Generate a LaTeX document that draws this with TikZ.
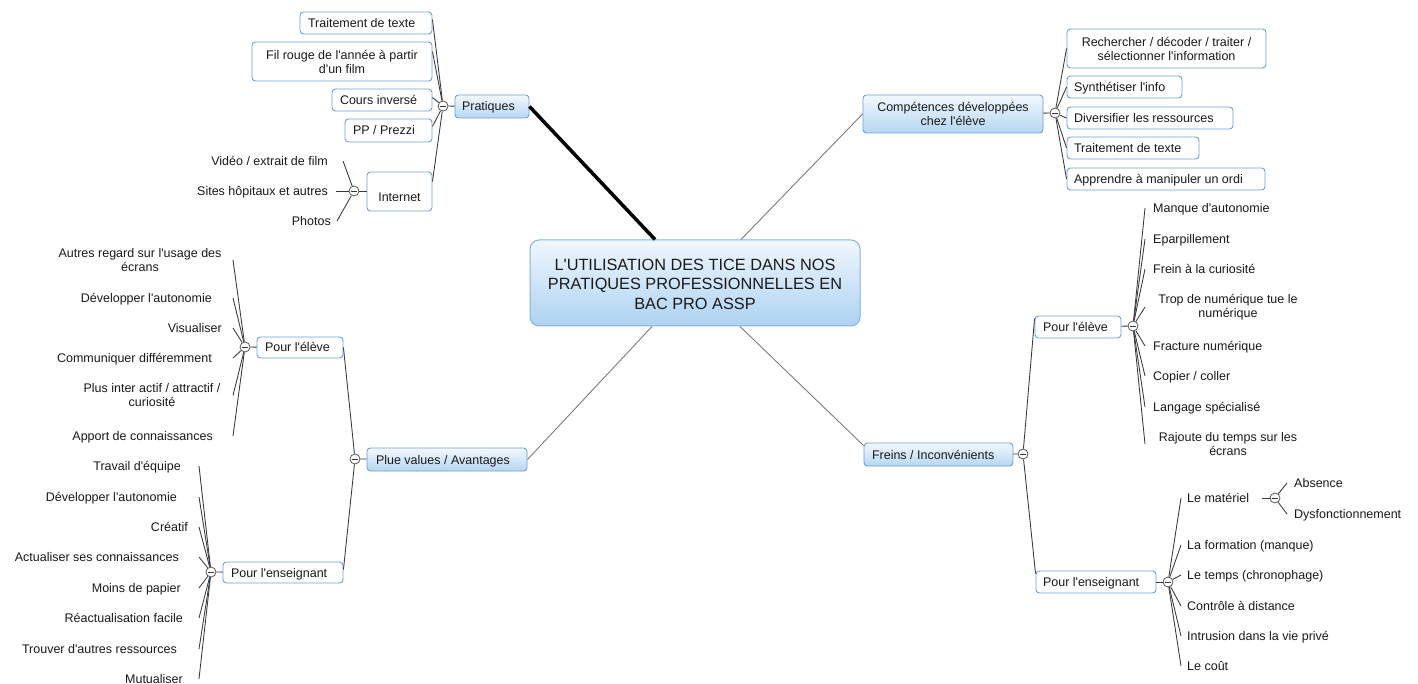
\documentclass[tikz,border=0pt]{standalone}
\usepackage{fontspec}
\setmainfont{Liberation Sans}[Ligatures=TeXOff]
\usetikzlibrary{calc}
\definecolor{bordblue}{HTML}{6F9FD2}
\definecolor{gradtop}{HTML}{F3F9FE}
\definecolor{gradbot}{HTML}{B5D6F2}
\definecolor{ctop}{HTML}{F0F7FE}
\definecolor{cbot}{HTML}{ADD2F1}
\definecolor{cbord}{HTML}{86B3DD}
\definecolor{linegray}{HTML}{383838}
\definecolor{maingray}{HTML}{7C7C7C}
\definecolor{txt}{HTML}{1A1A1A}
\begin{document}
\begin{tikzpicture}[x=1pt,y=-1pt,
  font=\fontsize{12.5}{14}\selectfont, text=txt,
  wbox/.style={draw=bordblue, line width=0.9pt, fill=white, rounded corners=3.5pt, inner sep=0pt},
  gbox/.style={draw=bordblue, line width=0.9pt, top color=gradtop, bottom color=gradbot, rounded corners=3.5pt, inner sep=0pt},
  cbox/.style={draw=cbord, line width=1pt, top color=ctop, bottom color=cbot, rounded corners=9pt, inner sep=0pt, align=center, font=\fontsize{16.3}{19.5}\selectfont},
  one/.style={text height=11pt, text depth=2pt},
  lbl/.style={inner sep=0pt},
  tog/.style={circle, draw=linegray!85, fill=white, line width=0.8pt, minimum size=10pt, inner sep=0pt,
    path picture={\draw[linegray, line width=0.8pt] ([xshift=-2.6pt]path picture bounding box.center) -- ([xshift=2.6pt]path picture bounding box.center);}},
  conn/.style={draw=linegray, line width=0.85pt},
  mainconn/.style={draw=maingray, line width=0.9pt},
  thickconn/.style={draw=black, line width=3.5pt},
]
\useasboundingbox[fill=white] (0,0) rectangle (1418,684);

% ---------- central ----------
\node[cbox, minimum width=330pt, minimum height=86pt] (c) at (695,283)
  {\rule{0pt}{14pt}L'UTILISATION DES TICE DANS NOS\\PRATIQUES PROFESSIONNELLES EN\\BAC PRO ASSP};

% ---------- Pratiques ----------
\node[gbox, one, inner xsep=7pt, minimum height=23pt] (pr) at (492,106.5) {\makebox[60pt][l]{Pratiques}};
\node[tog] (tpr) at (443,106) {};
\node[wbox, one, inner xsep=8pt, minimum height=22pt] (pt1) at (366,23) {\makebox[116pt][l]{Traitement de texte}};
\node[wbox, align=center, minimum width=180pt, minimum height=39pt] (pt2) at (342,61.5) {Fil rouge de l'année à partir\\d'un film};
\node[wbox, one, inner xsep=8pt, minimum height=22pt] (pt3) at (382,100) {\makebox[84pt][l]{Cours inversé}};
\node[wbox, one, inner xsep=8pt, minimum height=23pt] (pt4) at (388.5,130.5) {\makebox[71pt][l]{PP / Prezzi}};
\node[wbox, one, minimum width=65pt, minimum height=39pt] (pt5) at (399.5,191.5) {\raisebox{-5.5pt}{Internet}};
\node[tog] (tin) at (354,191) {};
\node[lbl, one, anchor=east] (iv) at (328,161) {Vidéo / extrait de film};
\node[lbl, one, anchor=east] (is) at (328,191) {Sites hôpitaux et autres};
\node[lbl, one, anchor=east] (ip) at (331,221) {Photos};

% ---------- Competences ----------
\node[gbox, align=center, minimum width=180pt, minimum height=38pt] (comp) at (953,114) {Compétences développées\\chez l'élève};
\node[tog] (tcp) at (1055,113) {};
\node[wbox, align=center, minimum width=199pt, minimum height=39pt] (cp1) at (1166.5,48.5) {Rechercher / décoder / traiter /\\sélectionner l'information};
\node[wbox, one, inner xsep=7pt, minimum height=22pt] (cp2) at (1124.5,87) {\makebox[101pt][l]{Synthétiser l'info}};
\node[wbox, one, inner xsep=7pt, minimum height=22pt] (cp3) at (1150,118) {\makebox[152pt][l]{Diversifier les ressources}};
\node[wbox, one, inner xsep=7pt, minimum height=22pt] (cp4) at (1133,148) {\makebox[118pt][l]{Traitement de texte}};
\node[wbox, one, inner xsep=7pt, minimum height=22pt] (cp5) at (1166,179) {\makebox[184pt][l]{Apprendre à manipuler un ordi}};

% ---------- Freins ----------
\node[gbox, one, inner xsep=8pt, minimum height=23pt] (fr) at (938.5,454.5) {\makebox[133pt][l]{Freins / Inconvénients}};
\node[tog] (tfr) at (1023,454) {};
\node[wbox, one, inner xsep=8pt, minimum height=22pt] (fre) at (1078,327) {\makebox[70pt][l]{Pour l'élève}};
\node[tog] (tfe) at (1133,326) {};
\node[wbox, one, inner xsep=7pt, minimum height=22pt] (fen) at (1096,582) {\makebox[106pt][l]{Pour l'enseignant}};
\node[tog] (tfn) at (1168,582) {};
\coordinate (xr1) at (1145,0);
\coordinate (xr2) at (1181,0);
\node[lbl, one, anchor=west] (e1) at (1153,208) {Manque d'autonomie};
\node[lbl, one, anchor=west] (e2) at (1153,239) {Eparpillement};
\node[lbl, one, anchor=west] (e3) at (1153,269) {Frein à la curiosité};
\node[lbl, align=center] (e4) at (1228,307) {Trop de numérique tue le\\numérique};
\node[lbl, one, anchor=west] (e5) at (1153,346) {Fracture numérique};
\node[lbl, one, anchor=west] (e6) at (1153,376) {Copier / coller};
\node[lbl, one, anchor=west] (e7) at (1153,407) {Langage spécialisé};
\node[lbl, align=center] (e8) at (1228,444) {Rajoute du temps sur les\\écrans};
\node[lbl, one, anchor=west] (n1) at (1187,498) {Le matériel};
\node[tog] (tmat) at (1275,498) {};
\node[lbl, one, anchor=west] (ab) at (1294,483) {Absence};
\node[lbl, one, anchor=west] (dy) at (1294,514) {Dysfonctionnement};
\node[lbl, one, anchor=west] (n2) at (1187,545) {La formation (manque)};
\node[lbl, one, anchor=west] (n3) at (1187,575) {Le temps (chronophage)};
\node[lbl, one, anchor=west] (n4) at (1187,606) {Contrôle à distance};
\node[lbl, one, anchor=west] (n5) at (1187,636) {Intrusion dans la vie privé};
\node[lbl, one, anchor=west] (n6) at (1187,666) {Le coût};

% ---------- Plue values ----------
\node[gbox, one, inner xsep=9pt, minimum height=23pt] (pv) at (447,459.5) {\makebox[142pt][l]{Plue values / Avantages}};
\node[tog] (tpv) at (355,459) {};
\node[wbox, one, inner xsep=8pt, minimum height=21pt] (pe) at (300,347.5) {\makebox[70pt][l]{Pour l'élève}};
\node[tog] (tpe) at (245,347) {};
\node[wbox, one, inner xsep=8pt, minimum height=21pt] (pn) at (283,572.5) {\makebox[104pt][l]{Pour l'enseignant}};
\node[tog] (tpn) at (211,572) {};
\coordinate (xl1) at (233,0);
\coordinate (xl2) at (199,0);
\node[lbl, align=center] (l1) at (140,260) {Autres regard sur l'usage des\\écrans};
\node[lbl, one, anchor=east] (l2) at (212,298) {Développer l'autonomie};
\node[lbl, one, anchor=east] (l3) at (222,328) {Visualiser};
\node[lbl, one, anchor=east] (l4) at (212,358) {Communiquer différemment};
\node[lbl, align=center] (l5) at (152,395.5) {Plus inter actif / attractif /\\curiosité};
\node[lbl, one, anchor=east] (l6) at (213,436) {Apport de connaissances};
\node[lbl, one, anchor=east] (m1) at (181,466) {Travail d'équipe};
\node[lbl, one, anchor=east] (m2) at (177,497) {Développer l'autonomie};
\node[lbl, one, anchor=east] (m3) at (188,527) {Créatif};
\node[lbl, one, anchor=east] (m4) at (179,557) {Actualiser ses connaissances};
\node[lbl, one, anchor=east] (m5) at (181,588) {Moins de papier};
\node[lbl, one, anchor=east] (m6) at (183,618) {Réactualisation facile};
\node[lbl, one, anchor=east] (m7) at (177,649) {Trouver d'autres ressources};
\node[lbl, one, anchor=east] (m8) at (183,679) {Mutualiser};

% ---------- connectors from central ----------
\draw[thickconn] ([xshift=-40pt]c.north) -- (pr.east);
\draw[mainconn] ([xshift=46pt]c.north) -- (comp.west);
\draw[mainconn] ([xshift=45pt]c.south) -- ([yshift=-3pt]fr.north west);
\draw[mainconn] ([xshift=-43pt]c.south) -- (pv.east);

% ---------- Pratiques connectors ----------
\draw[conn] (tpr) -- (pr);
\draw[conn] (tpr) -- ([yshift=-8pt]pt1.north east);
\draw[conn] (tpr) -- ([yshift=-10pt]pt2.north east);
\draw[conn] (tpr) -- ([yshift=-9pt]pt3.north east);
\draw[conn] (tpr) -- ([yshift=-8pt]pt4.north east);
\draw[conn] (tpr) -- ([yshift=-10pt]pt5.north east);
\draw[conn] (tin) -- (pt5.west |- tin);
\draw[conn] (tin) -- ([xshift=15pt]iv.east);
\draw[conn] (tin) -- ([xshift=8pt]is.east);
\draw[conn] (tin) -- ([xshift=6pt]ip.east);

% ---------- Competences connectors ----------
\draw[conn] (comp) -- (tcp);
\foreach \k in {cp1,cp2,cp3,cp4,cp5} \draw[conn] (tcp) -- (\k.west);

% ---------- Freins connectors ----------
\draw[conn] (fr) -- (tfr);
\draw[conn] (tfr) -- ([yshift=-3pt]fre.north west);
\draw[conn] (tfr) -- ([yshift=-3pt]fen.north west);
\draw[conn] (fre) -- (tfe);
\draw[conn] (fen) -- (tfn);
\foreach \k in {e1,e2,e3,e4,e5,e6,e7,e8} \draw[conn] (tfe) -- (\k.west -| xr1);
\foreach \k in {n1,n2,n3,n4,n5,n6} \draw[conn] (tfn) -- (\k.west -| xr2);
\draw[conn] ([xshift=13pt]n1.east) -- (tmat);
\draw[conn] (tmat) -- ([xshift=-7pt]ab.west);
\draw[conn] (tmat) -- ([xshift=-7pt]dy.west);

% ---------- Plue values connectors ----------
\draw[conn] (tpv) -- (pv);
\draw[conn] (tpv) -- (pe.east);
\draw[conn] (tpv) -- ([yshift=-8pt]pn.north east);
\draw[conn] (tpe) -- (pe);
\draw[conn] (tpn) -- (pn);
\foreach \k in {l1,l2,l3,l4,l5,l6} \draw[conn] (tpe) -- (\k.east -| xl1);
\foreach \k in {m1,m2,m3,m4,m5,m6,m7,m8} \draw[conn] (tpn) -- (\k.east -| xl2);
\end{tikzpicture}
\end{document}
